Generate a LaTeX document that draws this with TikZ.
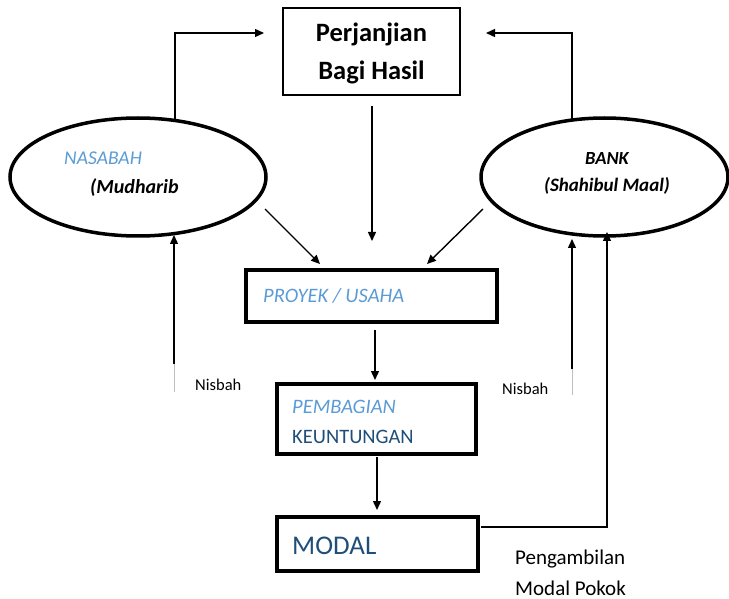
\documentclass[tikz,border=0pt]{standalone}
\usepackage{fontspec}
\setmainfont{Carlito}
\usetikzlibrary{arrows.meta,shapes.geometric}
\definecolor{lightblue}{HTML}{5B9BD5}
\definecolor{darkblue}{HTML}{1F4E79}
\definecolor{faintgrey}{HTML}{BFBFBF}
\begin{document}
\begin{tikzpicture}[x=1pt,y=-1pt,
  arr/.style={line width=1.4pt,-{Triangle[length=9pt,width=8pt]}},
  greyline/.style={line width=0.6pt,faintgrey},
  thickbox/.style={draw,line width=3.5pt,inner sep=0pt},
  oval/.style={ellipse,draw,line width=3.5pt,inner sep=0pt},
  txt/.style={inner sep=0pt,anchor=west}]
\useasboundingbox (0,0) rectangle (729,599);

% agreement box
\node[draw,line width=1.2pt,minimum width=177pt,minimum height=87pt] (akad) at (371.5,51.5) {};
\node[align=center,inner sep=0pt,font=\bfseries\fontsize{26.5}{38}\selectfont] (akadT) at (371.5,53.5) {Perjanjian\\Bagi Hasil};

% the two parties
\node[oval,minimum width=256pt,minimum height=118pt] (nasabah) at (138,177) {};
\node[txt,font=\itshape\fontsize{19.5}{22}\selectfont,text=lightblue] (nasabahT) at (64,158) {NASABAH};
\node[txt,font=\bfseries\itshape\fontsize{20}{22}\selectfont] (mudharib) at (90,188) {(Mudharib};

\node[oval,minimum width=247pt,minimum height=118pt] (bank) at (604.5,177) {};
\node[font=\bfseries\itshape\fontsize{18.5}{21}\selectfont,inner sep=0pt] (bankT) at (607,158) {BANK};
\node[font=\bfseries\itshape\fontsize{19}{21}\selectfont,inner sep=0pt] (shahibul) at (607,186) {(Shahibul Maal)};

% project, profit sharing and capital
\node[thickbox,minimum width=251pt,minimum height=52pt] (proyek) at (371.5,296) {};
\node[txt,font=\itshape\fontsize{20.5}{24}\selectfont,text=lightblue] (proyekT) at (263,296) {PROYEK / USAHA};

\node[thickbox,minimum width=199pt,minimum height=70pt] (bagi) at (376.5,419) {};
\node[txt,font=\itshape\fontsize{20.5}{24}\selectfont,text=lightblue] (bagiT1) at (292,407) {PEMBAGIAN};
\node[txt,font=\fontsize{20.5}{24}\selectfont,text=darkblue] (bagiT2) at (292,437) {KEUNTUNGAN};

\node[thickbox,minimum width=201pt,minimum height=54pt] (modal) at (377.5,544) {};
\node[txt,font=\fontsize{27}{32}\selectfont,text=darkblue] (modalT) at (292,546) {MODAL};

% free ends of the connectors
\coordinate (nUp) at (175,120);
\coordinate (akadInL) at (264,33);
\coordinate (bUp) at (572,120);
\coordinate (akadInR) at (486,33);
\coordinate (akadOut) at (372,106);
\coordinate (proyekIn) at (372,241);
\coordinate (nOut) at (265,209);
\coordinate (proyekInL) at (320,264);
\coordinate (bOut) at (483,209);
\coordinate (proyekInR) at (427,264);
\coordinate (proyekOut) at (375,330);
\coordinate (bagiIn) at (375,380);
\coordinate (bagiOut) at (377,457);
\coordinate (modalIn) at (377,510);
\coordinate (modalOut) at (481,527);
\coordinate (bankIn) at (607,232);
\coordinate (nisL0) at (174,392);
\coordinate (nisL1) at (174,364);
\coordinate (nasabahIn) at (174,235);
\coordinate (nisR0) at (572,395);
\coordinate (nisR1) at (572,369);
\coordinate (bankInL) at (572,239);

% connectors
\draw[arr] (nUp) |- (akadInL);
\draw[arr] (bUp) |- (akadInR);
\draw[arr] (akadOut) -- (proyekIn);
\draw[arr] (nOut) -- (proyekInL);
\draw[arr] (bOut) -- (proyekInR);
\draw[arr] (proyekOut) -- (bagiIn);
\draw[arr] (bagiOut) -- (modalIn);
\draw[arr] (modalOut) -| (bankIn);
\draw[greyline] (nisL0) -- (nisL1);
\draw[arr] (nisL1) -- (nasabahIn);
\draw[greyline] (nisR0) -- (nisR1);
\draw[arr] (nisR1) -- (bankInL);

% labels
\node[txt,font=\fontsize{16.5}{19}\selectfont] (nisbahL) at (195,385) {Nisbah};
\node[txt,font=\fontsize{16.5}{19}\selectfont] (nisbahR) at (502,389) {Nisbah};
\node[txt,font=\fontsize{21}{24}\selectfont] (ambil1) at (515,559) {Pengambilan};
\node[txt,font=\fontsize{21}{24}\selectfont] (ambil2) at (515,588) {Modal Pokok};
\end{tikzpicture}
\end{document}
